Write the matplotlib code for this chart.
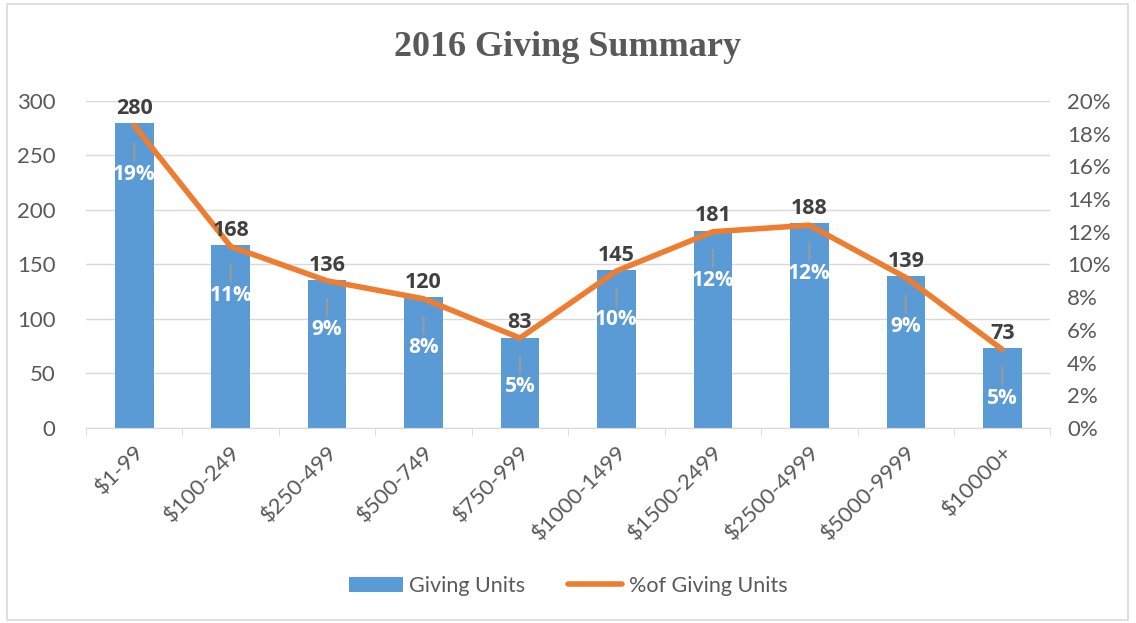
import matplotlib

matplotlib.use("Agg")
import matplotlib.pyplot as plt
from matplotlib.lines import Line2D
from matplotlib.patches import Patch, Rectangle
from matplotlib.ticker import FuncFormatter, MultipleLocator

# data
categories = [
    "$1-99", "$100-249", "$250-499", "$500-749", "$750-999",
    "$1000-1499", "$1500-2499", "$2500-4999", "$5000-9999", "$10000+",
]
giving_units = [280, 168, 136, 120, 83, 145, 181, 188, 139, 73]
pct_units = [0.185, 0.111, 0.090, 0.079, 0.055, 0.096, 0.120, 0.124, 0.092, 0.048]
pct_labels = ["19%", "11%", "9%", "8%", "5%", "10%", "12%", "12%", "9%", "5%"]

BAR_BLUE = "#5B9BD5"
LINE_ORANGE = "#ED7D31"
TEXT_GRAY = "#595959"
GRID_GRAY = "#D9D9D9"

plt.rcParams["font.family"] = ["Lato", "DejaVu Sans"]
plt.rcParams["text.parse_math"] = False

fig = plt.figure(figsize=(11.36, 6.23), dpi=100)
fig.patches.append(
    Rectangle((0.006, 0.005), 0.987, 0.988, transform=fig.transFigure,
              fill=False, edgecolor="#D9D9D9", linewidth=1.2)
)
ax = fig.add_axes([0.0757, 0.313, 0.849, 0.525])
ax2 = ax.twinx()

x = list(range(len(categories)))
ax.bar(x, giving_units, width=0.4, color=BAR_BLUE, zorder=2)
ax.set_xlim(-0.5, len(categories) - 0.5)
ax.set_ylim(0, 300)
ax.yaxis.set_major_locator(MultipleLocator(50))
ax.grid(axis="y", color=GRID_GRAY, linewidth=1.0, zorder=0)
ax.set_axisbelow(True)
for side in ["left", "right", "top"]:
    ax.spines[side].set_visible(False)
    ax2.spines[side].set_visible(False)
ax.spines["bottom"].set_color(GRID_GRAY)
ax2.spines["bottom"].set_visible(False)

ax.set_xticks(x)
ax.set_xticklabels(categories, rotation=45, ha="right", rotation_mode="anchor",
                   fontsize=16, color=TEXT_GRAY)
ax.tick_params(axis="x", length=0, pad=10)
ax.set_xticks([i + 0.5 for i in [-1] + x], minor=True)
ax.tick_params(axis="x", which="minor", length=6, color=GRID_GRAY)
ax.tick_params(axis="y", length=0, labelsize=16, labelcolor=TEXT_GRAY, pad=22)

ax2.plot(x, pct_units, color=LINE_ORANGE, linewidth=4, solid_capstyle="round",
         solid_joinstyle="round", zorder=3)
ax2.set_ylim(0, 0.20)
ax2.yaxis.set_major_locator(MultipleLocator(0.02))
ax2.yaxis.set_major_formatter(FuncFormatter(lambda v, _: f"{v * 100:.0f}%"))
ax2.tick_params(axis="y", length=0, labelsize=16, labelcolor=TEXT_GRAY, pad=12)

for xi, v in zip(x, giving_units):
    ax2.annotate(str(v), xy=(xi, v / 1500), xytext=(0, 3), textcoords="offset points",
                 ha="center", va="bottom", fontsize=15.5, fontweight="bold",
                 color="#404040", fontfamily=["Open Sans", "DejaVu Sans"])

for xi, p, lab in zip(x, pct_units, pct_labels):
    ax2.annotate(lab, xy=(xi, p), xytext=(0, -35), textcoords="offset points",
                 ha="center", va="center", fontsize=15, fontweight="bold",
                 color="white", fontfamily=["Open Sans", "DejaVu Sans"], zorder=4,
                 arrowprops=dict(arrowstyle="-", color="#9A9A9A", linewidth=1.5,
                                 shrinkA=0, shrinkB=13))

fig.text(0.5, 0.924, "2016 Giving Summary", ha="center", va="center",
         fontsize=26, fontweight="bold", color=TEXT_GRAY,
         fontfamily=["Liberation Serif", "DejaVu Serif"])

handles = [
    Patch(facecolor=BAR_BLUE, label="Giving Units"),
    Line2D([0], [0], color=LINE_ORANGE, linewidth=4, solid_capstyle="round",
           label="%of Giving Units"),
]
leg = fig.legend(handles=handles, loc="center", bbox_to_anchor=(0.5, 0.06), ncol=2,
                 frameon=False, fontsize=15.5, handlelength=2.5, columnspacing=2.0,
                 handletextpad=0.3)
for t in leg.get_texts():
    t.set_color(TEXT_GRAY)

fig.savefig("out.png", dpi=100)
